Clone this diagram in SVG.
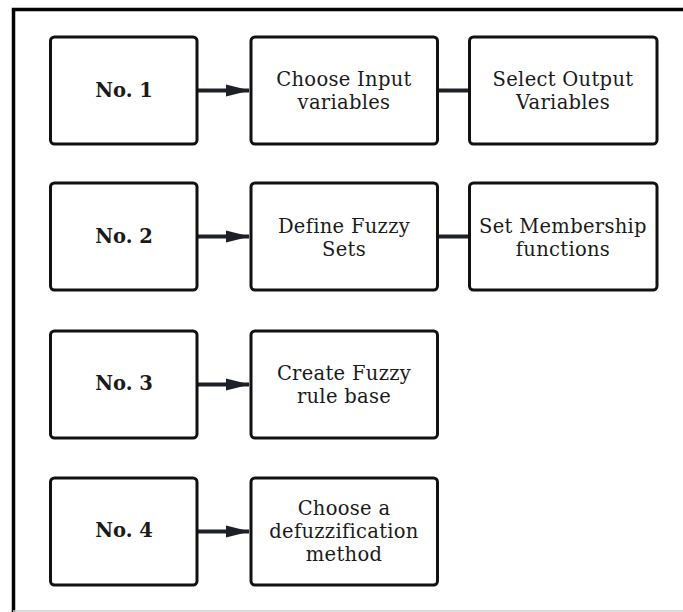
<svg xmlns="http://www.w3.org/2000/svg" width="683" height="612" viewBox="0 0 683 612">
<style>
.box{fill:#fff;stroke:#111;stroke-width:3}
.t{font-family:"DejaVu Serif","Liberation Serif",serif;font-size:19.5px;letter-spacing:0.3px;fill:#1a1a1a;text-anchor:middle}
.b{font-weight:bold;font-size:19.5px;letter-spacing:0}
.c{stroke:#1c2129;stroke-width:4;fill:none}
</style>
<defs>
<marker id="ah" markerUnits="userSpaceOnUse" markerWidth="24" markerHeight="14" refX="23" refY="7" orient="auto">
<path d="M0,1 L24,7 L0,13 Z" fill="#1c2129"/>
</marker>
</defs>
<rect x="0" y="0" width="683" height="612" fill="#fff"/>
<path d="M13.5,612 V9.5 H683" fill="none" stroke="#000" stroke-width="3.5"/>
<line x1="13" y1="611" x2="683" y2="611" stroke="#cfcfcf" stroke-width="1.5"/>
<g id="connectors">
<line class="c" x1="198" y1="90.5" x2="249" y2="90.5" marker-end="url(#ah)"/>
<line class="c" x1="437" y1="90.5" x2="470" y2="90.5"/>
<line class="c" x1="198" y1="236.5" x2="249" y2="236.5" marker-end="url(#ah)"/>
<line class="c" x1="437" y1="236.5" x2="470" y2="236.5"/>
<line class="c" x1="198" y1="384.5" x2="249" y2="384.5" marker-end="url(#ah)"/>
<line class="c" x1="198" y1="531.5" x2="249" y2="531.5" marker-end="url(#ah)"/>
</g>
<g id="no1"><rect class="box" x="50.5" y="37" width="146.5" height="107" rx="4"/><text class="t b" x="124" y="97">No. 1</text></g>
<g id="choose-input"><rect class="box" x="251" y="37" width="186.5" height="107" rx="4"/><text class="t" x="344" y="86">Choose Input</text><text class="t" x="344" y="109">variables</text></g>
<g id="select-output"><rect class="box" x="469.5" y="37" width="187.5" height="107" rx="4"/><text class="t" x="563" y="86">Select Output</text><text class="t" x="563" y="109">Variables</text></g>
<g id="no2"><rect class="box" x="50.5" y="183" width="146.5" height="107" rx="4"/><text class="t b" x="124" y="243">No. 2</text></g>
<g id="define-fuzzy"><rect class="box" x="251" y="183" width="186.5" height="107" rx="4"/><text class="t" x="344" y="233">Define Fuzzy</text><text class="t" x="344" y="256">Sets</text></g>
<g id="set-membership"><rect class="box" x="469.5" y="183" width="187.5" height="107" rx="4"/><text class="t" x="563" y="233">Set Membership</text><text class="t" x="563" y="256">functions</text></g>
<g id="no3"><rect class="box" x="50.5" y="331" width="146.5" height="107" rx="4"/><text class="t b" x="124" y="390">No. 3</text></g>
<g id="create-rule"><rect class="box" x="251" y="331" width="186.5" height="107" rx="4"/><text class="t" x="344" y="380">Create Fuzzy</text><text class="t" x="344" y="403">rule base</text></g>
<g id="no4"><rect class="box" x="50.5" y="478" width="146.5" height="107" rx="4"/><text class="t b" x="124" y="537">No. 4</text></g>
<g id="choose-defuzz"><rect class="box" x="251" y="478" width="186.5" height="107" rx="4"/><text class="t" x="344" y="515">Choose a</text><text class="t" x="344" y="538">defuzzification</text><text class="t" x="344" y="561">method</text></g>
</svg>
